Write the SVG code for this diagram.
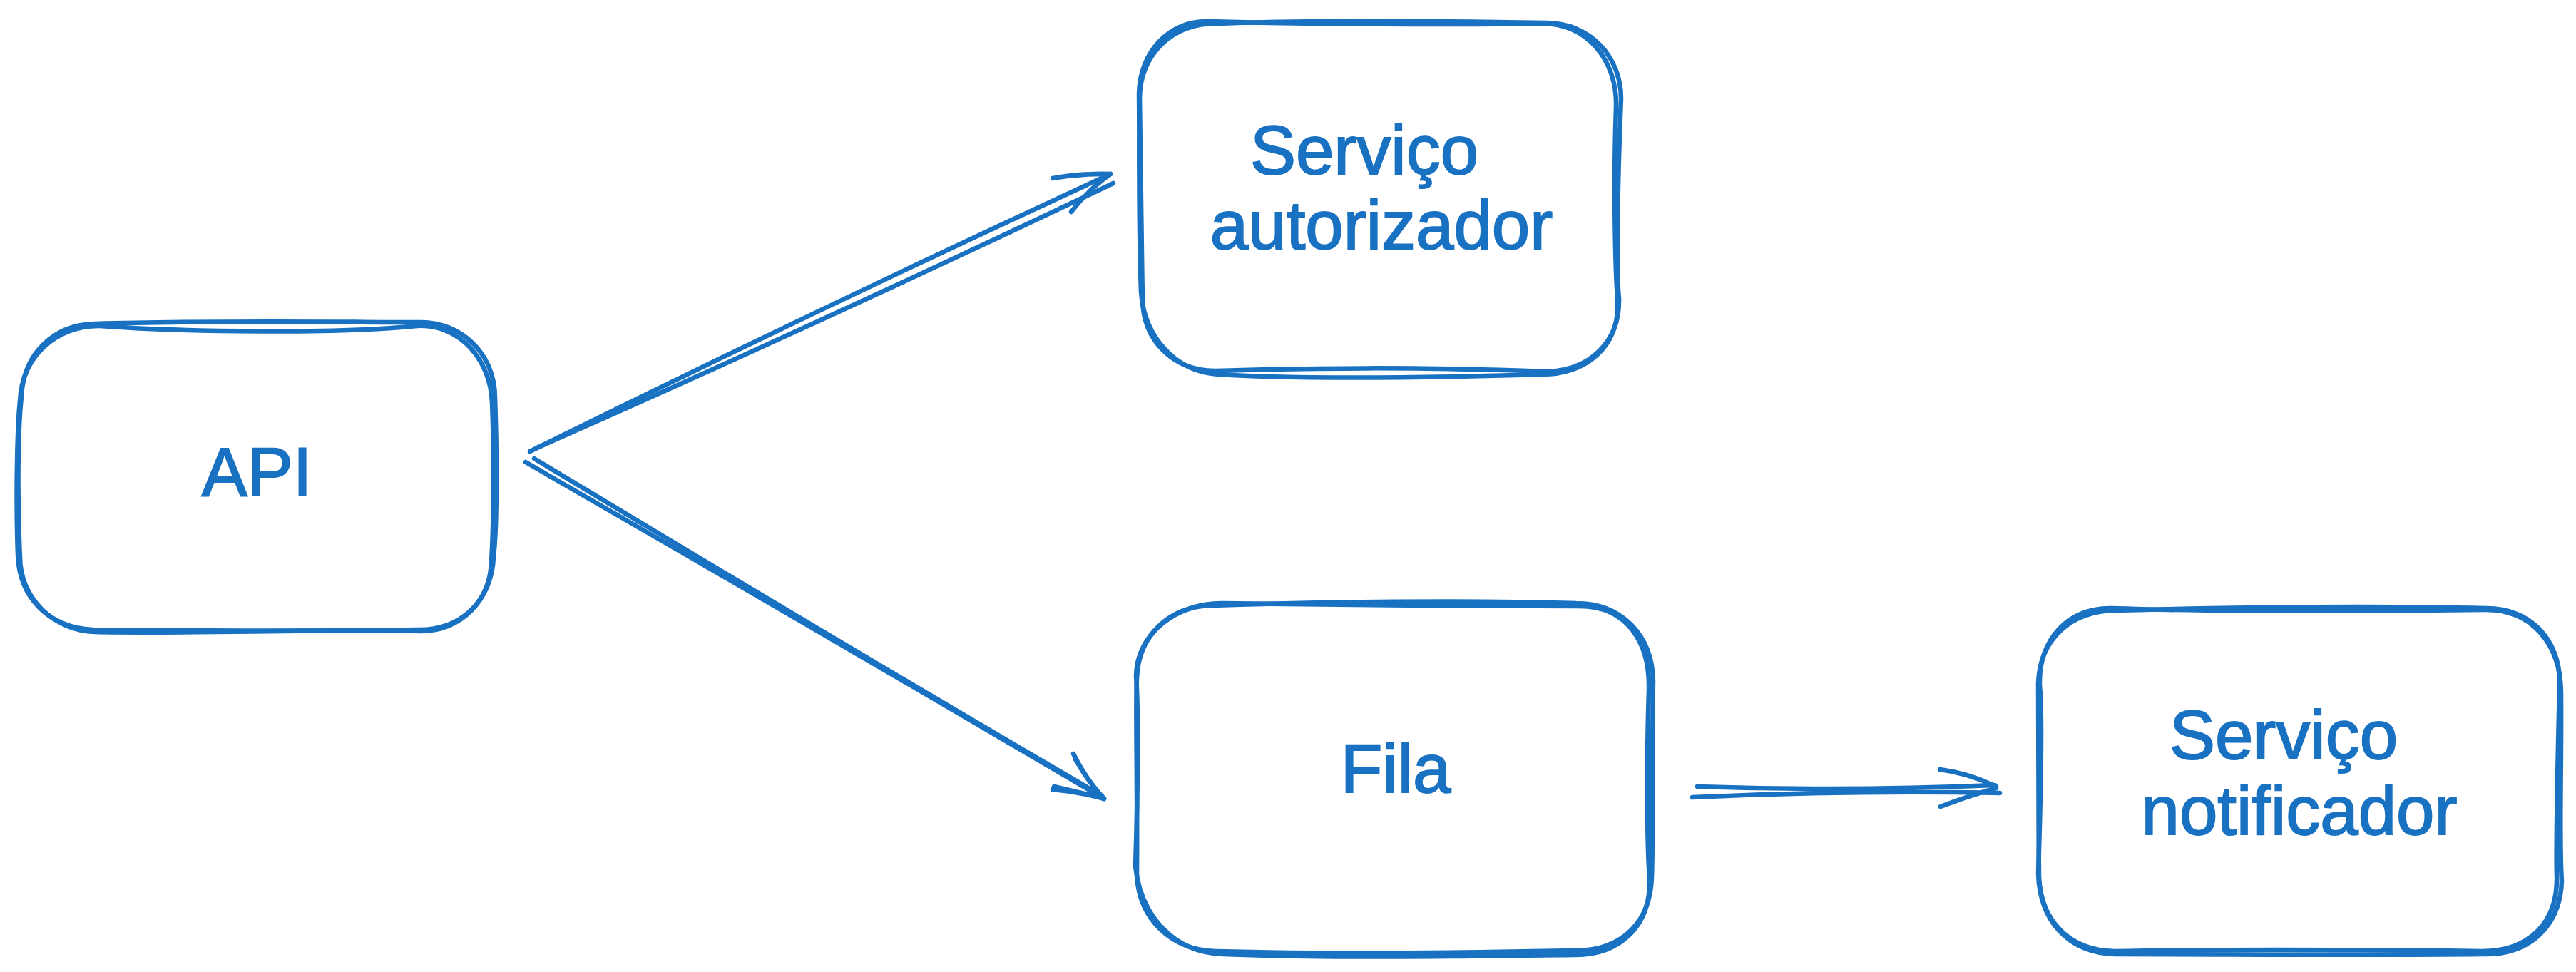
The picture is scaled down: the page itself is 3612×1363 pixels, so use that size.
<svg xmlns="http://www.w3.org/2000/svg" width="3612" height="1363" viewBox="0 0 3612 1363">
<style>
.s{fill:none;stroke:#1971c2;stroke-width:6.5;stroke-linecap:round;stroke-linejoin:round}
.t{font-family:"Liberation Sans","Noto Sans",sans-serif;font-size:96px;fill:#1971c2;stroke:#1971c2;stroke-width:2;text-anchor:middle}
</style>
<rect width="3612" height="1363" fill="#ffffff"/>
<g id="node-api">
<path class="s" d="M133,454 C300,449 480,452 589,452 C647,451 694,497 694,557 C697,640 697,740 692,781 C690,840 647,886 589,885 C450,882 260,889 133,886 C75,884 28,839 28,781 C24,700 25,600 30,557 C32,497 75,455 133,454 Z"/>
<path class="s" d="M140,457 C260,466 480,468 585,457 C645,454 688,505 690,565 C694,660 691,760 689,785 C688,845 645,884 585,883 C440,886 280,884 130,883 C70,880 27,840 25,778 C22,700 24,600 28,562 C30,500 80,456 140,457 Z"/>
<text class="t" x="360" y="695">API</text>
</g>
<g id="node-autorizador">
<path class="s" d="M1705,33 C1850,28 2050,30 2168,32 C2230,32 2273,80 2273,138 C2268,260 2266,380 2270,418 C2272,480 2228,520 2168,521 C2000,514 1820,516 1705,520 C1645,520 1602,478 1602,418 C1600,320 1600,220 1598,138 C1598,76 1645,32 1705,33 Z"/>
<path class="s" d="M1695,30 C1840,34 2040,35 2160,33 C2225,31 2268,85 2266,150 C2262,260 2265,380 2268,420 C2272,485 2225,526 2160,525 C2000,530 1830,532 1710,525 C1650,522 1605,475 1600,410 C1596,300 1598,200 1597,132 C1598,72 1640,28 1695,30 Z"/>
<text class="t" x="1913" y="244">Serviço</text>
<text class="t" x="1937" y="349">autorizador</text>
</g>
<g id="node-fila">
<path class="s" d="M1700,849 C1850,844 2060,841 2210,846 C2275,846 2317,892 2318,955 C2316,1080 2318,1180 2316,1230 C2314,1295 2272,1333 2210,1333 C2060,1336 1860,1338 1705,1334 C1642,1332 1598,1290 1594,1228 C1595,1100 1592,980 1594,952 C1596,890 1640,850 1700,849 Z"/>
<path class="s" d="M1715,846 C1860,848 2050,850 2213,850 C2278,849 2314,897 2312,968 C2308,1090 2310,1190 2313,1235 C2314,1300 2270,1340 2207,1339 C2060,1341 1870,1344 1715,1338 C1646,1336 1600,1285 1592,1215 C1596,1100 1596,990 1593,948 C1594,888 1650,845 1715,846 Z"/>
<text class="t" x="1957" y="1111">Fila</text>
</g>
<g id="node-notificador">
<path class="s" d="M2965,856 C3120,852 3330,849 3485,853 C3548,852 3590,898 3589,958 C3586,1080 3584,1200 3585,1230 C3586,1295 3545,1334 3480,1334 C3320,1332 3120,1331 2965,1334 C2902,1333 2862,1292 2859,1230 C2858,1120 2858,1000 2858,958 C2860,895 2905,857 2965,856 Z"/>
<path class="s" d="M2960,853 C3120,858 3320,857 3485,855 C3552,855 3590,905 3591,970 C3592,1080 3588,1180 3592,1235 C3590,1300 3546,1340 3480,1338 C3320,1340 3120,1338 2965,1338 C2900,1336 2860,1292 2858,1225 C2862,1100 2864,1000 2860,962 C2858,896 2900,852 2960,853 Z"/>
<text class="t" x="3202" y="1064">Serviço</text>
<text class="t" x="3224" y="1170">notificador</text>
</g>
<g id="connectors">
<path class="s" d="M743,633 Q1150,432 1557,244"/>
<path class="s" d="M753,628 Q1160,448 1561,257"/>
<path class="s" d="M1476,250 Q1515,243 1557,244"/>
<path class="s" d="M1502,297 Q1526,266 1557,244"/>
<path class="s" d="M737,648 Q1140,880 1548,1120"/>
<path class="s" d="M749,643 Q1150,885 1545,1116"/>
<path class="s" d="M1505,1057 Q1522,1092 1548,1120"/>
<path class="s" d="M1508,1065 Q1525,1095 1546,1118"/>
<path class="s" d="M1476,1107 Q1512,1110 1548,1120"/>
<path class="s" d="M1478,1103 Q1515,1112 1546,1118"/>
<path class="s" d="M2373,1118 Q2590,1108 2804,1112"/>
<path class="s" d="M2380,1103 Q2590,1110 2797,1101"/>
<path class="s" d="M2720,1079 Q2760,1084 2799,1103"/>
<path class="s" d="M2721,1131 Q2760,1116 2799,1105"/>
</g>
</svg>
